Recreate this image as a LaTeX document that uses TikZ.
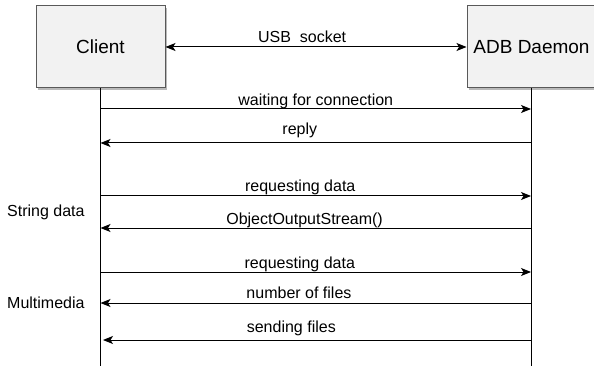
\documentclass[tikz,border=0pt]{standalone}
\usepackage{fontspec}
\setmainfont{Liberation Sans}
\usetikzlibrary{arrows.meta,shadows}
\tikzset{
  head/.tip={Stealth[length=10pt, width=8pt, inset=2.5pt]},
  party/.style={draw=black!65, fill=black!5, line width=1pt, minimum width=129pt,
    minimum height=82pt, font=\fontsize{19}{22}\selectfont,
    drop shadow={shadow xshift=2pt, shadow yshift=-2pt, fill=black!45, opacity=0.6}},
  msg/.style={line width=1pt, -head},
  link/.style={line width=1pt, head-head},
  lbl/.style={anchor=base, inner sep=0pt, font=\fontsize{16}{19}\selectfont},
  side/.style={anchor=base west, inner sep=0pt, font=\fontsize{16}{19}\selectfont}
}
\begin{document}
\begin{tikzpicture}[x=1pt,y=-1pt]
  \clip (0,0) rectangle (594,366);
  \fill[white] (0,0) rectangle (594,366);
  \node[party] (client) at (100.5,47) {Client};
  \node[party] (adb) at (531.5,47) {ADB Daemon};
  % lifelines
  \coordinate (cend) at (100.5,366);
  \coordinate (dend) at (531,366);
  \draw[line width=1pt] (client.south) -- (cend);
  \draw[line width=1pt] (adb.south -| dend) -- (dend);
  \foreach \n/\y in {1/109,2/143,3/196,4/228,5/272,6/303,7/340} {
    \coordinate (c\n) at (100.5,\y);
    \coordinate (d\n) at (531,\y);
  }
  \coordinate (c7x) at (103,340);
  \draw[link] (client.east) -- node[lbl, pos=.454, yshift=4pt] {USB\ \ socket} (adb.west);
  \draw[msg] (c1) -- node[lbl, pos=.5, yshift=3pt] {waiting for connection} (d1);
  \draw[msg] (d2) -- node[lbl, pos=.537, yshift=8pt] {reply} (c2);
  \draw[msg] (c3) -- node[lbl, pos=.464, yshift=4pt] {requesting data} (d3);
  \draw[msg] (d4) -- node[lbl, pos=.526, yshift=4pt] {ObjectOutputStream()} (c4);
  \draw[msg] (c5) -- node[lbl, pos=.463, yshift=4pt] {requesting data} (d5);
  \draw[msg] (d6) -- node[lbl, pos=.539, yshift=5pt] {number of files} (c6);
  \draw[msg] (d7) -- node[lbl, pos=.56, yshift=8pt] {sending files} (c7x);
  \node[side] (strdata) at (7,216) {String data};
  \node[side] (media) at (7,308) {Multimedia};
\end{tikzpicture}
\end{document}
